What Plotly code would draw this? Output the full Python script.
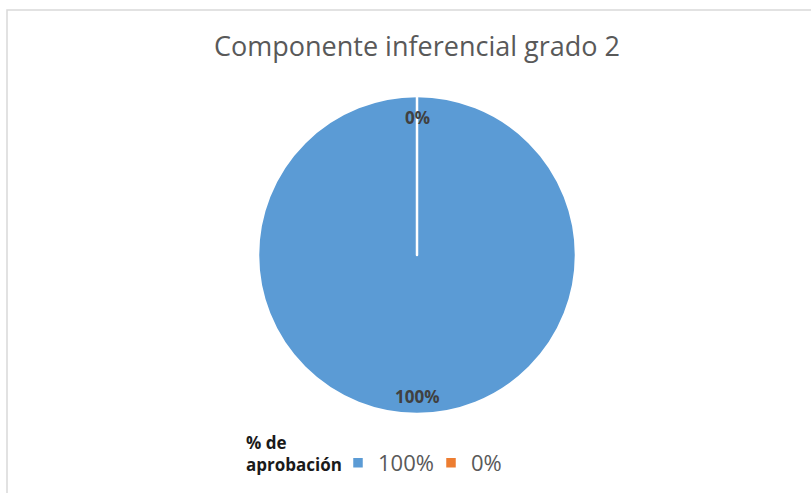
import plotly.graph_objects as go

# ── Data ───────────────────────────────────────────────────────────────────────
labels = ["100%", "0%"]
values = [100, 0]
colors = ["#5B9BD5", "#ED7D31"]

TITLE = "Componente inferencial grado 2"
LEGEND_TITLE = "<b>% de<br>aprobación</b>"

TEXT = "#595959"
FONT = "Open Sans, Noto Sans, Arial, sans-serif"

W, H = 811, 493
cx, cy, r = 417, 255, 159

fig = go.Figure()
fig.add_trace(go.Pie(
    labels=labels, values=values,
    sort=False, direction="clockwise", rotation=0,
    marker=dict(colors=colors, line=dict(color="white", width=2.5)),
    textinfo="none",
    hoverinfo="label+percent",
    domain=dict(x=[(cx - r) / W, (cx + r) / W],
                y=[(H - cy - r) / H, (H - cy + r) / H]),
    showlegend=True,
))

# data labels placed like Excel's best-fit (top for 0 %, bottom for 100 %)
label_y = {"0%": 117, "100%": 396}
total = sum(values)
for lab, v in zip(labels, values):
    fig.add_annotation(
        x=cx / W, y=1 - label_y[lab] / H, xref="paper", yref="paper",
        yanchor="middle",
        text=f"<b>{v / total * 100:.0f}%</b>", showarrow=False,
        font=dict(family=FONT, size=17, color="#404040"),
    )

# legend title, drawn beside the entries as in Excel
fig.add_annotation(
    x=244 / W, y=1 - 453 / H, xref="paper", yref="paper",
    xanchor="left", yanchor="middle", align="left",
    text=LEGEND_TITLE, showarrow=False,
    font=dict(family=FONT, size=17, color="#1a1a1a"),
)

# chart-area border (visible on left and top only)
fig.add_shape(type="rect", xref="paper", yref="paper",
              x0=7 / W, x1=1.05, y0=-0.05, y1=1 - 10 / H,
              line=dict(color="#D9D9D9", width=1.5), layer="below")

fig.update_layout(
    width=W, height=H,
    paper_bgcolor="white",
    margin=dict(l=0, r=0, t=0, b=0),
    font=dict(family=FONT, color=TEXT),
    title=dict(text=TITLE, x=cx / W, xanchor="center", y=1 - 47 / H, yanchor="middle",
               font=dict(family=FONT, size=27, color=TEXT)),
    legend=dict(
        orientation="h", x=338 / W, xanchor="left", y=1 - 463 / H, yanchor="middle",
        font=dict(family=FONT, size=22, color=TEXT),
        itemwidth=30, traceorder="normal",
        entrywidth=48, entrywidthmode="pixels",
    ),
)

fig.write_html("out.html", config={"displayModeBar": False},
               post_script="document.body.style.margin='0';")
